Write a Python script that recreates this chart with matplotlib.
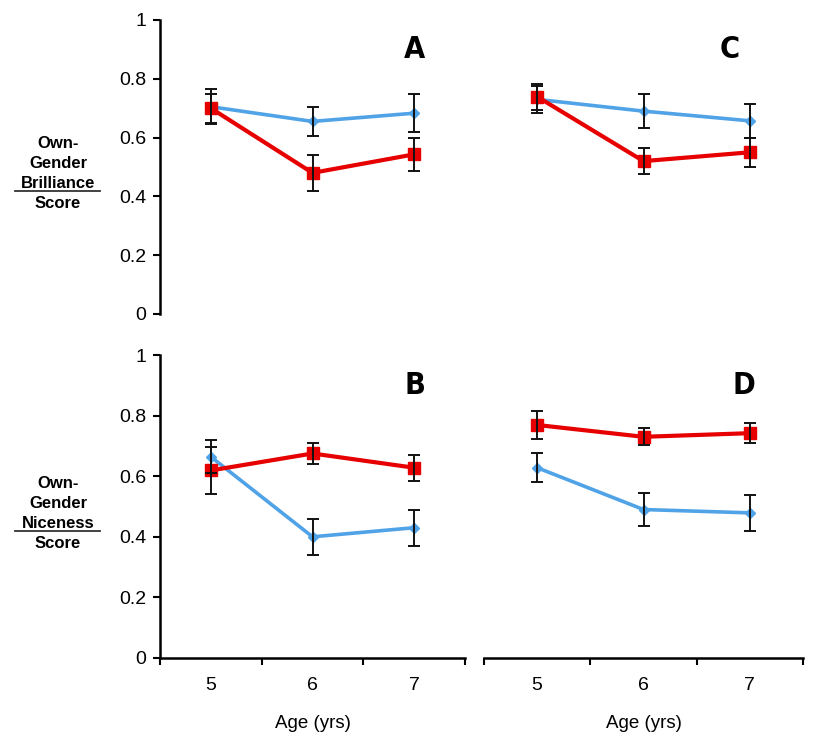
import matplotlib
matplotlib.use('Agg')
import matplotlib.pyplot as plt
from matplotlib.lines import Line2D

# ages on the x axis
ages = [5, 6, 7]
age_labels = ['5', '6', '7']

# panel A (brilliance, study 1)
a_blue = [0.705, 0.655, 0.683]
a_blue_err = [0.06, 0.048, 0.065]
a_red = [0.70, 0.48, 0.543]
a_red_err = [0.05, 0.06, 0.055]

# panel C (brilliance, study 2)
c_blue = [0.73, 0.69, 0.657]
c_blue_err = [0.045, 0.057, 0.057]
c_red = [0.739, 0.52, 0.55]
c_red_err = [0.045, 0.045, 0.05]

# panel B (niceness, study 1)
b_blue = [0.664, 0.40, 0.43]
b_blue_err = [0.055, 0.06, 0.06]
b_red = [0.619, 0.675, 0.628]
b_red_err = [0.078, 0.035, 0.043]

# panel D (niceness, study 2)
d_blue = [0.628, 0.49, 0.479]
d_blue_err = [0.048, 0.053, 0.06]
d_red = [0.769, 0.73, 0.742]
d_red_err = [0.045, 0.028, 0.033]

y_ticks = [0, 0.2, 0.4, 0.6, 0.8, 1]
y_tick_labels = ['0', '0.2', '0.4', '0.6', '0.8', '1']

BLUE = '#4fa3e6'
RED = '#e60000'
SANS = ['Liberation Sans', 'DejaVu Sans']

plt.rcParams['font.family'] = SANS

fig = plt.figure(figsize=(8.25, 7.43), dpi=100)

W, H = 825.0, 743.0
ax_a = fig.add_axes([160 / W, 1 - 314 / H, 305 / W, 294 / H])
ax_c = fig.add_axes([484 / W, 1 - 314 / H, 319 / W, 294 / H])
ax_b = fig.add_axes([160 / W, 1 - 658 / H, 305 / W, 303 / H])
ax_d = fig.add_axes([484 / W, 1 - 658 / H, 319 / W, 303 / H])

panels = [
    (ax_a, a_blue, a_blue_err, a_red, a_red_err, 'A', 0.835),
    (ax_c, c_blue, c_blue_err, c_red, c_red_err, 'C', 0.77),
    (ax_b, b_blue, b_blue_err, b_red, b_red_err, 'B', 0.835),
    (ax_d, d_blue, d_blue_err, d_red, d_red_err, 'D', 0.815),
]

for ax, blue, blue_err, red, red_err, letter, lx in panels:
    ax.plot(ages, blue, color=BLUE, lw=2.6, marker='D', ms=5.5, zorder=2)
    ax.plot(ages, red, color=RED, lw=3, marker='s', ms=8.5, zorder=2)
    ax.errorbar(ages, blue, yerr=blue_err, fmt='none', ecolor='#111111',
                elinewidth=1.4, capsize=4, capthick=1.4, zorder=3)
    ax.errorbar(ages, red, yerr=red_err, fmt='none', ecolor='#111111',
                elinewidth=1.4, capsize=4, capthick=1.4, zorder=3)
    ax.set_xlim(4.5, 7.5)
    ax.set_ylim(0, 1)
    for s in ['top', 'right']:
        ax.spines[s].set_visible(False)
    ax.text(lx, 0.9, letter, transform=ax.transAxes, ha='center', va='center',
            fontsize=22, fontweight='bold', family='DejaVu Sans',
            fontstretch='condensed')

# y axes only on the left column
for ax in [ax_a, ax_b]:
    ax.spines['left'].set_linewidth(1.8)
    ax.set_yticks(y_ticks)
    ax.set_yticklabels(y_tick_labels)
    ax.tick_params(axis='y', direction='out', length=5, width=1.5, labelsize=14, pad=5)
for ax in [ax_c, ax_d]:
    ax.spines['left'].set_visible(False)
    ax.set_yticks([])

# x axes only on the bottom row
for ax in [ax_a, ax_c]:
    ax.spines['bottom'].set_visible(False)
    ax.set_xticks([])
for ax in [ax_b, ax_d]:
    ax.spines['bottom'].set_linewidth(1.8)
    ax.set_xticks([4.5, 5.5, 6.5, 7.5])
    ax.set_xticklabels([])
    ax.tick_params(axis='x', which='major', direction='out', length=5, width=1.5)
    ax.set_xticks(ages, minor=True)
    ax.set_xticklabels(age_labels, minor=True)
    ax.tick_params(axis='x', which='minor', length=0, labelsize=14, pad=14)
    ax.set_xlabel('Age (yrs)', fontsize=13.5, labelpad=15)

# row labels written as fractions
def row_label(words, y_top):
    for i, w in enumerate(words):
        fig.text(58 / W, 1 - (y_top + 20 * i) / H, w, ha='center', va='center',
                 fontsize=12, fontweight='bold')
    ly = 1 - (y_top + 48) / H
    fig.add_artist(Line2D([15 / W, 100 / W], [ly, ly], color='#333333', lw=1.3))

row_label(['Own-', 'Gender', 'Brilliance', 'Score'], 143)
row_label(['Own-', 'Gender', 'Niceness', 'Score'], 483)

fig.savefig('out.png', dpi=100)
